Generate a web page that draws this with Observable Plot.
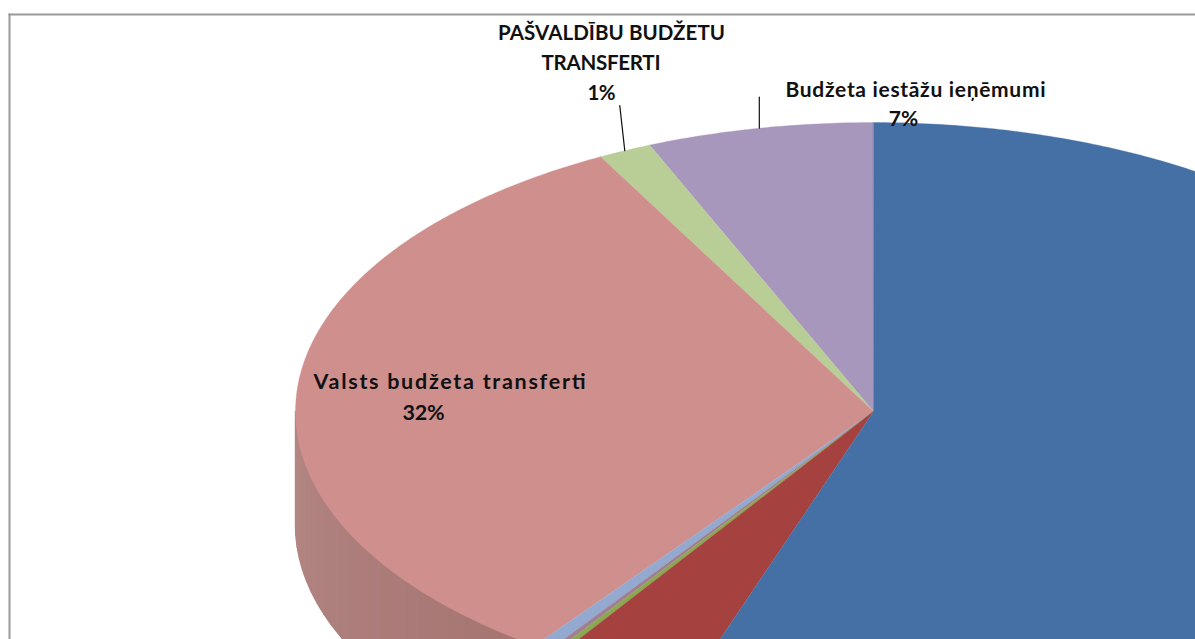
<!DOCTYPE html>
<html>
<head>
<meta charset="utf-8">
<script src="https://cdn.jsdelivr.net/npm/d3@7"></script>
<script src="https://cdn.jsdelivr.net/npm/@observablehq/plot@0.6"></script>
<style>html,body{margin:0;padding:0;background:#fff}svg{display:block}</style>
</head>
<body>
<div id="chart"></div>
<script>
// Slices, counter-clockwise from 12 o'clock (share of the drawn pie, %)
const sliceNames  = ["Budžeta iestāžu ieņēmumi", "PAŠVALDĪBU BUDŽETU TRANSFERTI", "Valsts budžeta transferti", "Cits 1", "Cits 2", "Cits 3", "Cits 4", "Cits 5"];
const sliceShares = [6.33, 1.5, 32.2, 0.47, 0.17, 0.19, 3.97, 55.17];
const sliceColors = ["#a897bc", "#b9cd96", "#cf8f8d", "#93a9cf", "#a07f8f", "#8aa84e", "#a5423f", "#4470a5"];
const sideColorFrom = "#b38684";
const sideColorTo = "#a47470";

// Labels
const labelLines = ["PAŠVALDĪBU BUDŽETU", "TRANSFERTI", "1%", "Budžeta iestāžu ieņēmumi", "7%", "Valsts budžeta transferti", "32%"];

// Layout (pixels)
const W = 1195, H = 639, cx = 873, cy = 411, rx = 578, ry = 289, depth = 113;
const ux = px => (px - cx) / rx, uy = py => (py - cy) / ry;
const labelX = [611, 600.5, 601, 915, 903, 449, 423];
const labelY = [33, 62.5, 93, 90, 119, 382, 413];
const labelSize = [20.5, 20.5, 20.5, 21, 21, 21.5, 21.5];
const labelWidth = [227, 119, 28, 260, 0, 272, 42];

const toRad = d3.scaleLinear([0, 100], [0, 2 * Math.PI]);
const ptTop = a => ({x: -Math.sin(a), y: -Math.cos(a)});

let cum = 0;
const slices = sliceShares.map((v, i) => {
  const s = {i, a0: toRad(cum), a1: toRad(cum + v), color: sliceColors[i], name: sliceNames[i]};
  cum += v;
  return s;
});

// Top face wedges
const wedges = slices.flatMap(s => {
  const n = Math.max(2, Math.ceil((s.a1 - s.a0) / 0.01));
  const arc = d3.range(n + 1).map(k => ptTop(s.a0 + (s.a1 - s.a0) * k / n));
  return [{x: 0, y: 0}, ...arc].map(p => ({...p, id: s.i, color: s.color}));
});

// Shaded rim of the pink slice (the only rim inside the crop)
const pink = slices[2];
const sideStart = Math.PI / 2, sideEnd = pink.a1;
const sideShade = d3.interpolateRgb(sideColorFrom, sideColorTo);
const nStrips = 24, dy = depth / ry;
const band = (a0, a1, n, id, color) => {
  const pts = d3.range(n + 1).map(j => ptTop(a0 + (a1 - a0) * j / n));
  const back = pts.slice().reverse().map(p => ({x: p.x, y: p.y + dy}));
  return [...pts, ...back].map(p => ({...p, id, color}));
};
const side = d3.range(nStrips).flatMap(k => {
  const t = k / nStrips;
  return band(sideStart + (sideEnd - sideStart) * t, sideStart + (sideEnd - sideStart) * (t + 1 / nStrips), 4, "s" + k, sideShade(t));
});

// Leader lines start at the middle of their slice's arc
const leaderRise = [[5, 45], [0, 31]];
const leaderSlices = [slices[1], slices[0]];
const leaders = leaderSlices.flatMap((s, i) => {
  const p = ptTop((s.a0 + s.a1) / 2);
  return [{...p, id: i}, {x: p.x - leaderRise[i][0] / rx, y: p.y - leaderRise[i][1] / ry, id: i}];
});

const labels = labelLines.map((t, i) => ({t, x: ux(labelX[i]), y: uy(labelY[i]), size: labelSize[i], width: labelWidth[i]}));

const chart = Plot.plot({
  width: W, height: H,
  marginLeft: 9, marginTop: 14, marginRight: 0, marginBottom: 0,
  style: {background: "#fff"},
  x: {domain: [ux(0), ux(W)], range: [0, W], axis: null},
  y: {domain: [uy(0), uy(H)], range: [0, H], axis: null},
  color: {type: "identity"},
  marks: [
    Plot.line(band(sideStart, sideEnd, 60, "base", sideColorFrom), {x: "x", y: "y", z: "id", fill: "color", curve: "linear-closed", stroke: "none"}),
    Plot.line(side, {x: "x", y: "y", z: "id", fill: "color", stroke: "color", strokeWidth: 1.4, curve: "linear-closed"}),
    Plot.line(wedges, {x: "x", y: "y", z: "id", fill: "color", stroke: "color", strokeWidth: 0.3, curve: "linear-closed"}),
    Plot.line(leaders, {x: "x", y: "y", z: "id", stroke: "#111", strokeWidth: 1.2}),
    Plot.frame({anchor: "left", stroke: "#9a9a9a", strokeWidth: 2}),
    Plot.frame({anchor: "top", stroke: "#9a9a9a", strokeWidth: 2}),
    Plot.text(labels, {
      x: "x", y: "y", text: "t", fontFamily: "Lato", fontWeight: 700, fontSize: "size",
      fill: "#111", textAnchor: "middle", lineAnchor: "middle",
      render(index, scales, values, dimensions, context, next) {
        const g = next(index, scales, values, dimensions, context);
        d3.select(g).selectAll("text").each(function(i) {
          const w = labels[i].width;
          if (w) d3.select(this).attr("textLength", w).attr("lengthAdjust", "spacing");
        });
        return g;
      }
    })
  ]
});
document.getElementById("chart").append(chart);
</script>
</body>
</html>
